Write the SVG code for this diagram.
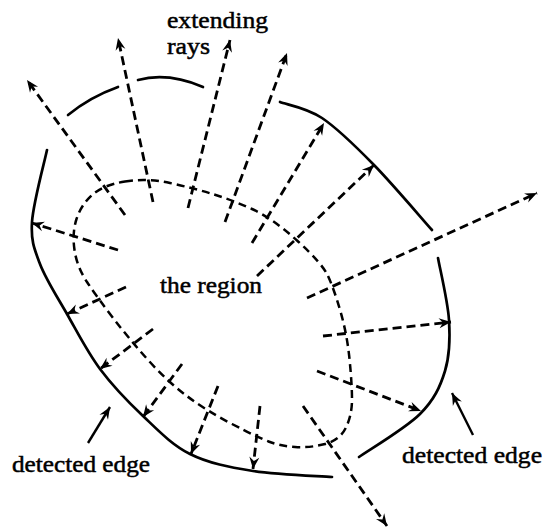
<svg xmlns="http://www.w3.org/2000/svg" width="544" height="528" viewBox="0 0 544 528">
<style>
.edge{fill:none;stroke:#000;stroke-width:2.7;stroke-linecap:round}
.region{fill:none;stroke:#000;stroke-width:2.5;stroke-dasharray:8 5}
.ray{fill:none;stroke:#000;stroke-width:2.8;stroke-dasharray:9 5;marker-end:url(#arr)}
.ptr{fill:none;stroke:#000;stroke-width:2.4;marker-end:url(#arr)}
text{font-family:'Liberation Serif','Times New Roman',Times,serif;font-size:24px;fill:#000;stroke:#000;stroke-width:0.5}
</style>
<defs>
<marker id="arr" markerUnits="userSpaceOnUse" viewBox="-13 -6 14 12" refX="0" refY="0" markerWidth="14" markerHeight="12" orient="auto">
<path d="M0,0 L-12,-5 L-8,0 L-12,5 Z" fill="#000"/>
</marker>
</defs>
<rect width="544" height="528" fill="#fff"/>
<g id="edges">
<path class="edge" d="M68,115 Q90,97 118,87"/>
<path class="edge" d="M138,80 Q168,72 203,87"/>
<path class="edge" d="M280,102 C287,104.7 306.3,107.5 322,118 C337.7,128.5 355.7,146.3 374,165 C392.3,183.7 422.3,219.2 432,230"/>
<path class="edge" d="M438,258 C439.8,268.3 447.8,301.2 449,320 C450.2,338.8 449.8,355.3 445,371 C440.2,386.7 434.3,399.7 420,414 C405.7,428.3 369.2,449.8 359,457"/>
<path class="edge" d="M47,150 C44.5,162 33.2,203 32,222 C30.8,241 34.2,248.7 40,264 C45.8,279.3 57,296.5 67,314 C77,331.5 87.3,352 100,369 C112.7,386 128,401.8 143,416 C158,430.2 171.7,444.8 190,454 C208.3,463.2 229.3,467.2 253,471 C276.7,474.8 318.8,476 332,477"/>
</g>
<g id="region">
<path class="region" d="M125,181.5 Q147,178 170,183 Q193,188 212.5,194 Q232,200 252,209 Q272,218 297,240.5 Q322,263 328,276 Q334,289 340.5,311.5 Q347,334 349.5,359 Q352,384 352,399.5 Q352,415 346,427.5 Q340,440 325,444 Q310,448 295,447 Q280,446 268.5,441.5 Q257,437 232,424 Q207,411 187.5,396.5 Q168,382 149,361 Q130,340 113.5,318.5 Q97,297 87,282 Q77,267 74.5,250 Q72,233 76.5,219 Q81,205 92,195 Q103,185 125,181.5 Z"/>
</g>
<g id="connectors">
<line class="ray" x1="125" y1="215" x2="27" y2="80"/>
<line class="ray" x1="153" y1="202" x2="118" y2="38"/>
<line class="ray" x1="188" y1="208" x2="230" y2="40"/>
<line class="ray" x1="225" y1="222" x2="287" y2="53"/>
<line class="ray" x1="252" y1="243" x2="324" y2="123"/>
<line class="ray" x1="257" y1="276" x2="374" y2="165"/>
<line class="ray" x1="307" y1="298" x2="537" y2="193"/>
<line class="ray" x1="323" y1="336" x2="451" y2="322"/>
<line class="ray" x1="317" y1="371" x2="421" y2="411"/>
<line class="ray" x1="303" y1="406" x2="387" y2="526"/>
<line class="ray" x1="260" y1="406" x2="253" y2="469"/>
<line class="ray" x1="218" y1="386" x2="191" y2="454"/>
<line class="ray" x1="182" y1="364" x2="143" y2="417"/>
<line class="ray" x1="153" y1="329" x2="100" y2="369"/>
<line class="ray" x1="126" y1="287" x2="67" y2="314"/>
<line class="ray" x1="118" y1="250" x2="32" y2="223"/>
<line class="ptr" x1="88" y1="443" x2="110" y2="407"/>
<line class="ptr" x1="473" y1="435" x2="452" y2="393"/>
</g>
<g id="labels">
<text x="167" y="28" textLength="101" lengthAdjust="spacingAndGlyphs">extending</text>
<text x="167" y="54" textLength="43" lengthAdjust="spacingAndGlyphs">rays</text>
<text x="160" y="293" textLength="102" lengthAdjust="spacingAndGlyphs">the region</text>
<text x="12" y="472" textLength="138" lengthAdjust="spacingAndGlyphs">detected edge</text>
<text x="402" y="463" textLength="140" lengthAdjust="spacingAndGlyphs">detected edge</text>
</g>
</svg>
